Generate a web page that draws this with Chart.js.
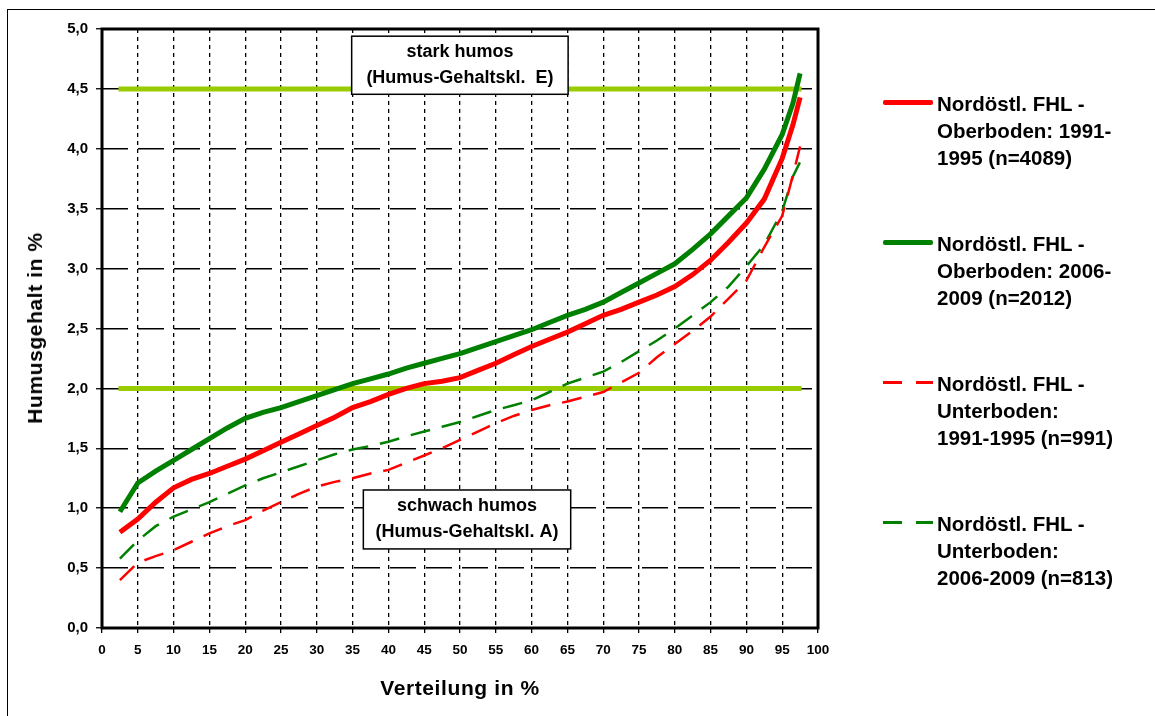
<!DOCTYPE html>
<html><head><meta charset="utf-8">
<script src="https://cdn.jsdelivr.net/npm/chart.js@4.4.1/dist/chart.umd.min.js"></script>
<style>
html,body{margin:0;padding:0;background:#fff;}
#wrap{position:relative;width:1155px;height:716px;overflow:hidden;font-family:"Liberation Sans",Arial,sans-serif;color:#000;}
#frame{position:absolute;left:7px;top:9px;width:1170px;height:730px;border:1px solid #000;box-sizing:border-box;}
#c{position:absolute;left:0;top:0;}
.ttl{position:absolute;font-weight:bold;font-size:21px;white-space:nowrap;letter-spacing:0.6px;}
.legtxt{position:absolute;left:937px;font-weight:bold;font-size:20.5px;line-height:27px;white-space:nowrap;}
.sw{position:absolute;}
</style></head>
<body>
<div id="wrap">
  <div id="frame"></div>
  <canvas id="c" width="1155" height="716"></canvas>
  <div class="ttl" id="ytitle" style="left:35px;top:328px;transform:translate(-50%,-50%) rotate(-90deg);">Humusgehalt in %</div>
  <div class="ttl" id="xtitle" style="left:460px;top:688px;transform:translate(-50%,-50%);">Verteilung in %</div>
  <div id="legend"></div>
</div>
<script>
// ---- data ----
const xPct = [2.5,5,7.5,10,12.5,15,17.5,20,22.5,25,27.5,30,32.5,35,37.5,40,42.5,45,47.5,50,52.5,55,57.5,60,62.5,65,67.5,70,72.5,75,77.5,80,82.5,85,87.5,90,92.5,95,96.5,97.5];
const ober1991 = [0.80,0.91,1.05,1.17,1.24,1.29,1.35,1.41,1.48,1.55,1.62,1.69,1.76,1.84,1.89,1.95,2.00,2.04,2.06,2.09,2.15,2.21,2.28,2.35,2.41,2.47,2.54,2.61,2.66,2.72,2.78,2.85,2.95,3.07,3.22,3.38,3.58,3.92,4.20,4.43];
const ober2006 = [0.97,1.21,1.31,1.40,1.49,1.58,1.67,1.75,1.80,1.84,1.89,1.94,1.99,2.04,2.08,2.12,2.17,2.21,2.25,2.29,2.34,2.39,2.44,2.49,2.55,2.61,2.66,2.72,2.80,2.88,2.96,3.04,3.16,3.29,3.44,3.59,3.83,4.12,4.38,4.63];
const unter1991 = [0.40,0.545,0.60,0.65,0.72,0.79,0.85,0.90,0.98,1.05,1.12,1.18,1.22,1.25,1.29,1.32,1.38,1.44,1.50,1.57,1.64,1.71,1.77,1.82,1.86,1.89,1.93,1.97,2.05,2.13,2.26,2.37,2.48,2.60,2.75,2.90,3.18,3.44,3.78,4.02];
const unter2006 = [0.58,0.73,0.85,0.93,0.99,1.05,1.12,1.19,1.25,1.30,1.35,1.40,1.45,1.49,1.52,1.555,1.60,1.64,1.68,1.72,1.77,1.82,1.86,1.90,1.97,2.04,2.09,2.14,2.22,2.31,2.40,2.50,2.61,2.72,2.85,3.02,3.20,3.48,3.77,3.89];
const seriesNames = [
  ["Nordöstl. FHL -","Oberboden: 1991-","1995 (n=4089)"],
  ["Nordöstl. FHL -","Oberboden: 2006-","2009 (n=2012)"],
  ["Nordöstl. FHL -","Unterboden:","1991-1995 (n=991)"],
  ["Nordöstl. FHL -","Unterboden:","2006-2009 (n=813)"]
];
const classLevels = [4.5, 2.0];
const classLineX = [2.3, 97.7];
const classLabels = [["stark humos","(Humus-Gehaltskl.  E)"],["schwach humos","(Humus-Gehaltskl. A)"]];
const xTickStep = 5, yTickStep = 0.5;

// ---- styles / placement ----
const RED = '#ff0000', GREEN = '#008000', LIME = '#99cc00';
const seriesStyle = [
  {color:RED, width:5, dash:[]},
  {color:GREEN, width:5, dash:[]},
  {color:RED, width:2.5, dash:[20,12]},
  {color:GREEN, width:2.5, dash:[20,12]}
];
const boxPlacement = [
  {x0:34.87, x1:65.1, y0:4.94, y1:4.455},
  {x0:36.5, x1:65.46, y0:1.152, y1:0.66}
];

const pts = arr => xPct.map((x,i)=>({x:x, y:arr[i]}));
const seriesData = [ober1991, ober2006, unter1991, unter2006];

const datasets = seriesData.map((arr,i)=>({
  label: seriesNames[i].join(' '),
  data: pts(arr),
  borderColor: seriesStyle[i].color,
  borderWidth: seriesStyle[i].width,
  borderDash: seriesStyle[i].dash,
  pointRadius: 0,
  tension: 0,
  fill: false,
  borderCapStyle: 'butt'
}));
classLevels.forEach(lv=>{
  datasets.push({
    label: 'Klasse '+lv,
    data: classLineX.map(x=>({x:x, y:lv})),
    borderColor: LIME, borderWidth: 5, pointRadius: 0, fill:false, borderCapStyle:'butt'
  });
});

const decor = {
  id: 'decor',
  beforeDatasetsDraw(chart){
    const {ctx, chartArea:a} = chart;
    ctx.save();
    ctx.strokeStyle = '#000'; ctx.lineWidth = 3;
    ctx.strokeRect(a.left, a.top, a.right-a.left, a.bottom-a.top);
    ctx.restore();
  },
  afterDatasetsDraw(chart){
    const {ctx, scales:{x, y}} = chart;
    ctx.save();
    boxPlacement.forEach((b,i)=>{
      const l = x.getPixelForValue(b.x0), r = x.getPixelForValue(b.x1);
      const t = y.getPixelForValue(b.y0), btm = y.getPixelForValue(b.y1);
      ctx.fillStyle = '#fff';
      ctx.fillRect(l, t, r-l, btm-t);
      ctx.strokeStyle = '#000'; ctx.lineWidth = 1.5;
      ctx.strokeRect(l, t, r-l, btm-t);
      ctx.fillStyle = '#000';
      ctx.font = 'bold 18px "Liberation Sans", Arial, sans-serif';
      ctx.textAlign = 'center'; ctx.textBaseline = 'middle';
      const cx = (l+r)/2;
      ctx.fillText(classLabels[i][0], cx, t+16);
      ctx.fillText(classLabels[i][1], cx, t+42);
    });
    ctx.restore();
  }
};

new Chart(document.getElementById('c'), {
  type: 'line',
  data: { datasets },
  options: {
    responsive: false,
    animation: false,
    devicePixelRatio: 1,
    events: [],
    layout: { padding: {left:0, top:29, right:337, bottom:0} },
    plugins: { legend:{display:false}, tooltip:{enabled:false} },
    scales: {
      x: {
        type: 'linear', min: 0, max: 100,
        afterFit: s => { s.height = 88; },
        border: { display: false, dash:[4,4] },
        grid: { color:'#000', lineWidth:1.3, tickLength:5, tickBorderDash:[], tickColor:'#000', tickWidth:1.3 },
        ticks: { stepSize: xTickStep, autoSkip:false, maxRotation:0, padding:9, color:'#000',
                 font:{family:'"Liberation Sans", Arial', size:13.5, weight:'bold'} }
      },
      y: {
        min: 0, max: 5,
        afterFit: s => { s.width = 102; },
        border: { display: false, dash:[26,10] },
        grid: { color:'#000', lineWidth:1.5, tickLength:6, tickBorderDash:[], tickColor:'#000', tickWidth:1.3 },
        ticks: { stepSize: yTickStep, padding:8, color:'#000',
                 font:{family:'"Liberation Sans", Arial', size:15, weight:'bold'},
                 callback: v => Number(v).toFixed(1).replace('.', ',') }
      }
    }
  },
  plugins: [decor]
});

// ---- legend (HTML text) ----
const legend = document.getElementById('legend');
const firstLineY = [103, 243, 383, 523];
seriesNames.forEach((lines,i)=>{
  const st = seriesStyle[i];
  const cy = firstLineY[i] - 1;
  if (st.dash.length === 0) {
    const d = document.createElement('div');
    d.className = 'sw';
    d.style.cssText = `left:883px;width:50px;top:${cy-2.5}px;height:5px;background:${st.color};border-radius:2px;`;
    legend.appendChild(d);
  } else {
    [[883,19],[916,17]].forEach(([l,w])=>{
      const d = document.createElement('div');
      d.className = 'sw';
      d.style.cssText = `left:${l}px;width:${w}px;top:${cy-1.5}px;height:3px;background:${st.color};`;
      legend.appendChild(d);
    });
  }
  const t = document.createElement('div');
  t.className = 'legtxt';
  t.style.top = (firstLineY[i] - 13.5) + 'px';
  t.innerHTML = lines.join('<br>');
  legend.appendChild(t);
});
</script>
</body></html>
